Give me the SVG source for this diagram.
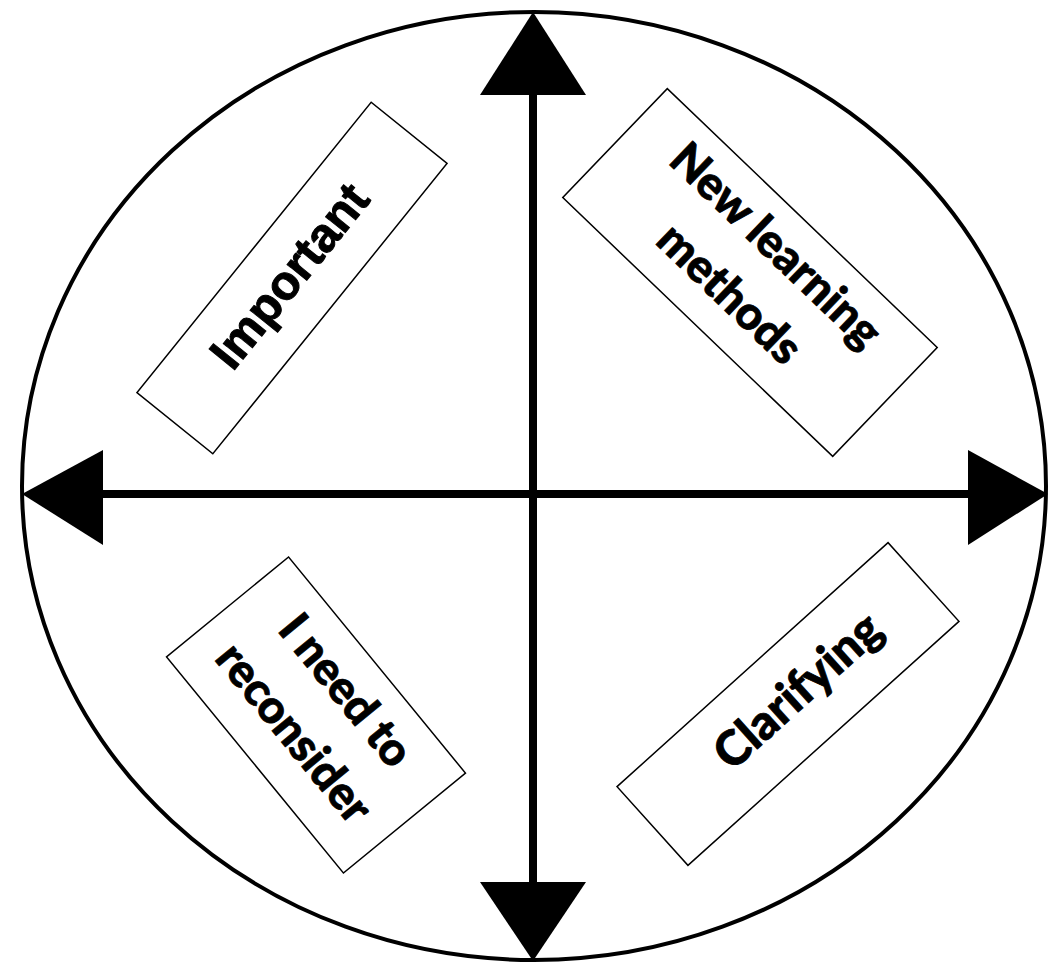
<svg xmlns="http://www.w3.org/2000/svg" width="1052" height="966" viewBox="0 0 1052 966">
<style>
.bg{fill:#fff}
.ring{fill:none;stroke:#000;stroke-width:4}
.axis{stroke:#000;stroke-width:8;fill:none}
.head{fill:#000;stroke:none}
.box{fill:#fff;stroke:#000;stroke-width:1.5}
.lbl{font-family:"Lato","Open Sans",sans-serif;font-weight:900;fill:#000;stroke:#000;stroke-width:0.8;text-anchor:middle}
.lbl2{font-family:"Liberation Sans",Arial,sans-serif;font-weight:700;fill:#000;stroke:#000;stroke-width:1;text-anchor:middle}
</style>
<rect class="bg" x="0" y="0" width="1052" height="966"/>
<ellipse id="ring" class="ring" cx="534" cy="486" rx="512" ry="474"/>
<g id="connectors">
  <line class="axis" x1="533" y1="90" x2="533" y2="886"/>
  <line class="axis" x1="100" y1="494" x2="972" y2="494"/>
  <polygon class="head" points="533,12 480,95 586,95"/>
  <polygon class="head" points="480,882 586,882 533,961"/>
  <polygon class="head" points="22,494 103,450 103,545"/>
  <polygon class="head" points="968,450 968,545 1048,494"/>
</g>
<g id="important" transform="translate(292,278) rotate(-51.1)">
  <rect class="box" x="-186.5" y="-48.75" width="373" height="97.5"/>
  <text class="lbl2" x="0" y="13" font-size="48">Important</text>
</g>
<g id="new-learning-methods" transform="translate(750,272.5) rotate(43.8)">
  <rect class="box" x="-187" y="-75.5" width="374" height="151"/>
  <text class="lbl" x="0" y="-22" font-size="46">New learning</text>
  <text class="lbl" x="0" y="45" font-size="46">methods</text>
</g>
<g id="i-need-to-reconsider" transform="translate(316,715) rotate(50.7)">
  <rect class="box" x="-139.65" y="-78.85" width="279.3" height="157.7"/>
  <text class="lbl" x="0" y="-23" font-size="46">I need to</text>
  <text class="lbl" x="0" y="44" font-size="46">reconsider</text>
</g>
<g id="clarifying" transform="translate(788,704) rotate(-42)">
  <rect class="box" x="-182.35" y="-53" width="364.7" height="106"/>
  <text class="lbl" x="16" y="13" font-size="48">Clarifying</text>
</g>
</svg>
